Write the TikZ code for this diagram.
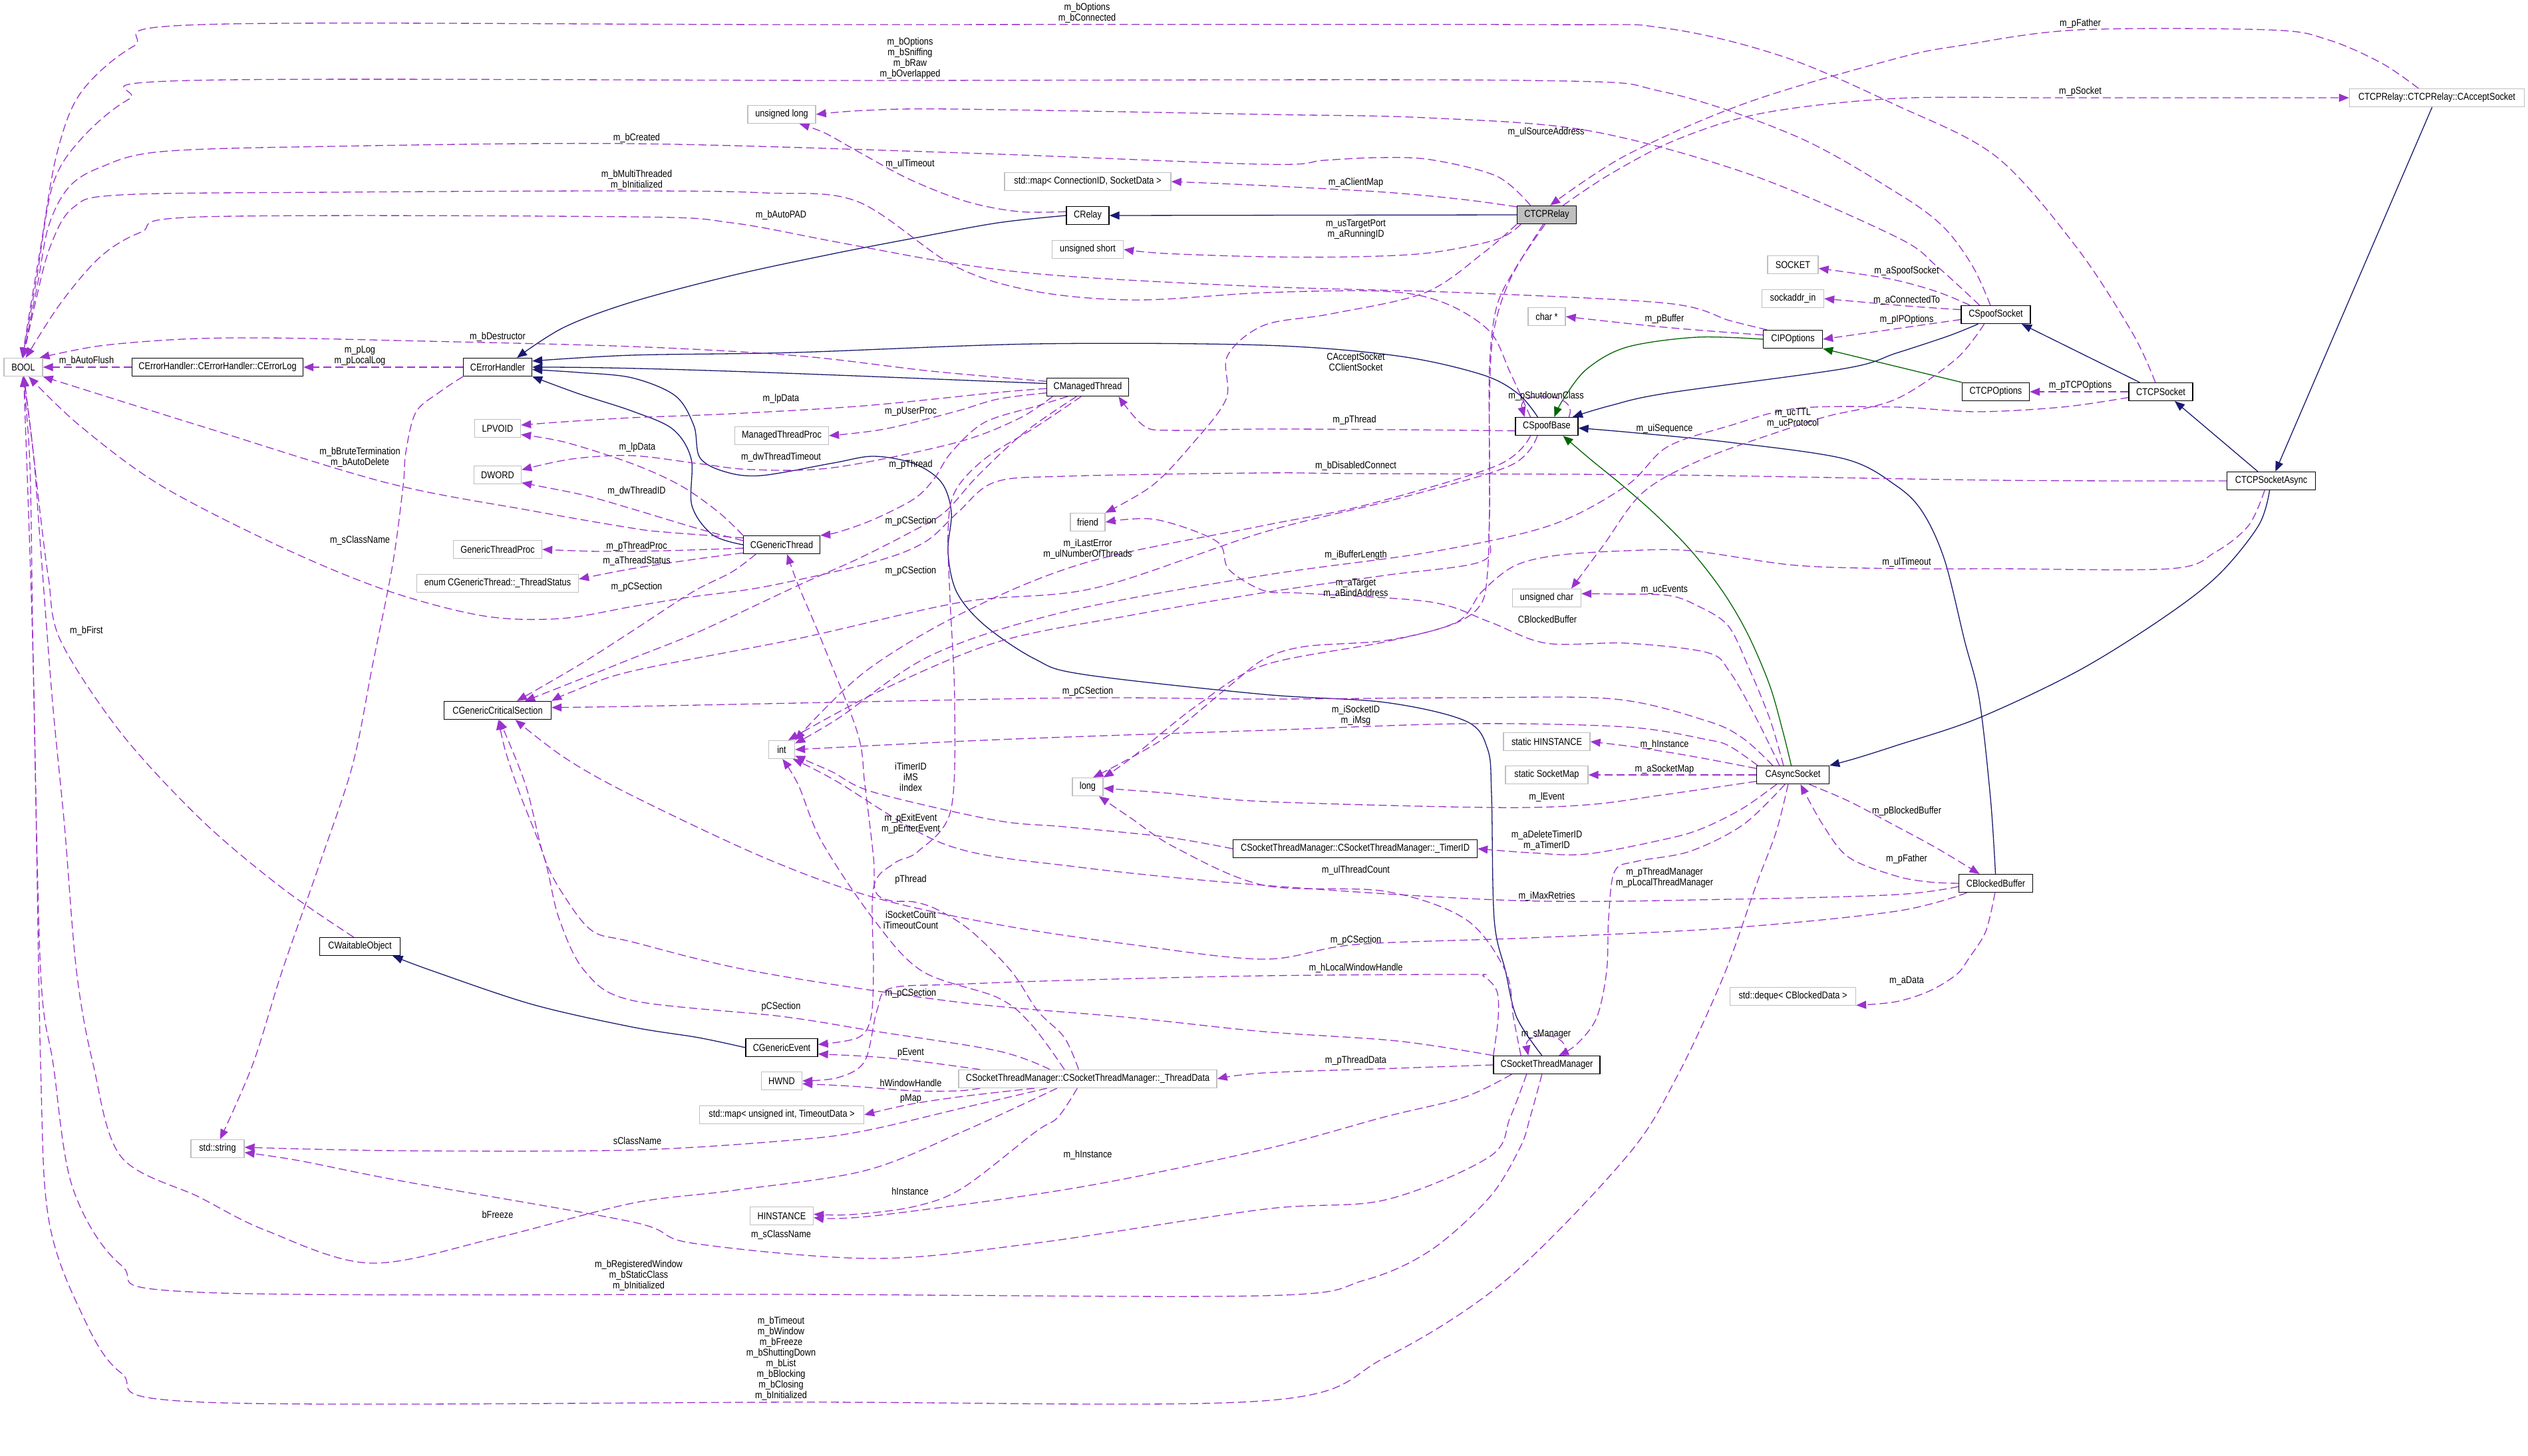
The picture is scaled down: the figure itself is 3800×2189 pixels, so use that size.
\documentclass[tikz,border=0pt]{standalone}
\usepackage{fontspec}
\setmainfont{Liberation Sans}[FakeStretch=0.85]
\usetikzlibrary{arrows.meta}
\definecolor{pur}{HTML}{9A32CD}
\definecolor{cnavy}{HTML}{191970}
\definecolor{cgreen}{HTML}{006400}
\definecolor{gbord}{HTML}{BFBFBF}
\definecolor{relayfill}{HTML}{BFBFBF}
\pgfdeclarelayer{back}
\pgfdeclarelayer{edges}
\pgfsetlayers{back,edges,main}
\tikzset{
  box/.style={draw, line width=1.3pt, minimum height=27pt, inner xsep=3pt, inner ysep=0pt, fill=white},
  cls/.style={box, draw=black},
  ext/.style={box, draw=gbord},
  u/.style={draw=pur, line width=1.3pt, dash pattern=on 12pt off 6pt, -{Triangle[length=15pt,width=12pt]}},
  inh/.style={draw=cnavy, line width=1.3pt, -{Triangle[length=15pt,width=12pt]}},
  pinh/.style={draw=cgreen, line width=1.3pt, -{Triangle[length=15pt,width=12pt]}},
  lbl/.style={align=center, inner sep=0pt},
  sm/.style={smooth, tension=0.55}
}
\begin{document}
\catcode`\_=12
\begin{tikzpicture}[x=1pt,y=-1pt,font=\fontsize{15}{16}\selectfont]
\useasboundingbox (0,0) rectangle (3800,2189);
\begin{pgfonlayer}{back}
\fill[white] (0,0) rectangle (3800,2189);
\end{pgfonlayer}
% ---------------- nodes
\node[ext, minimum width=58pt] (BOOL) at (35,552) {BOOL};
\node[cls, minimum width=257pt] (CErrorLog) at (327,552) {CErrorHandler::CErrorHandler::CErrorLog};
\node[cls, minimum width=103pt] (CErrorHandler) at (748,552) {CErrorHandler};
\node[ext, minimum width=69pt] (LPVOID) at (748,644) {LPVOID};
\node[ext, minimum width=71pt] (DWORD) at (748,714) {DWORD};
\node[ext, minimum width=133pt] (GTP) at (748,826) {GenericThreadProc};
\node[ext, minimum width=243pt] (ThreadStatus) at (748,877) {enum CGenericThread::_ThreadStatus};
\node[cls, minimum width=161pt] (CGCS) at (748,1068) {CGenericCriticalSection};
\node[cls, minimum width=121pt] (CWO) at (541,1423) {CWaitableObject};
\node[ext, minimum width=80pt] (stdstring) at (327,1727) {std::string};
\node[ext, minimum width=102pt] (ulong) at (1175,172) {unsigned long};
\node[ext, minimum width=141pt] (MTP) at (1175,655) {ManagedThreadProc};
\node[cls, minimum width=115pt] (CGT) at (1175,819) {CGenericThread};
\node[ext, minimum width=39pt] (int) at (1175,1127) {int};
\node[cls, minimum width=108pt] (CGE) at (1175,1575) {CGenericEvent};
\node[ext, minimum width=61pt] (HWND) at (1175,1625) {HWND};
\node[ext, minimum width=247pt] (tmap) at (1175,1676) {std::map< unsigned int, TimeoutData >};
\node[ext, minimum width=95pt] (HINST) at (1175,1828) {HINSTANCE};
\node[ext, minimum width=250pt] (cmap) at (1635,273) {std::map< ConnectionID, SocketData >};
\node[cls, minimum width=64pt] (CRelay) at (1635,324) {CRelay};
\node[ext, minimum width=107pt] (ushort) at (1635,375) {unsigned short};
\node[cls, minimum width=123pt] (CMT) at (1635,582) {CManagedThread};
\node[ext, minimum width=52pt] (friend) at (1635,785) {friend};
\node[ext, minimum width=46pt] (long) at (1635,1183) {long};
\node[ext, minimum width=388pt] (TD) at (1635,1622) {CSocketThreadManager::CSocketThreadManager::_ThreadData};
\node[cls, minimum width=367pt] (TimerID) at (2037,1276) {CSocketThreadManager::CSocketThreadManager::_TimerID};
\node[cls, fill=relayfill, minimum width=89pt] (CTCPRelay) at (2325,323) {CTCPRelay};
\node[ext, minimum width=56pt] (charp) at (2325,476) {char *};
\node[cls, minimum width=94pt] (CSpoofBase) at (2325,641) {CSpoofBase};
\node[ext, minimum width=103pt] (uchar) at (2325,899) {unsigned char};
\node[ext, minimum width=130pt] (sHINST) at (2325,1115) {static HINSTANCE};
\node[ext, minimum width=124pt] (sSM) at (2325,1165) {static SocketMap};
\node[cls, minimum width=160pt] (CSTM) at (2325,1601) {CSocketThreadManager};
\node[ext, minimum width=76pt] (SOCKET) at (2695,398) {SOCKET};
\node[ext, minimum width=93pt] (sockaddr) at (2695,449) {sockaddr_in};
\node[cls, minimum width=89pt] (CIPO) at (2695,510) {CIPOptions};
\node[cls, minimum width=109pt] (CAS) at (2695,1165) {CAsyncSocket};
\node[ext, minimum width=189pt] (deque) at (2695,1498) {std::deque< CBlockedData >};
\node[cls, minimum width=104pt] (CSS) at (3000,473) {CSpoofSocket};
\node[cls, minimum width=101pt] (CTCPO) at (3000,589) {CTCPOptions};
\node[cls, minimum width=111pt] (CBB) at (3000,1328) {CBlockedBuffer};
\node[cls, minimum width=96pt] (CTCPS) at (3248,589) {CTCPSocket};
\node[cls, minimum width=133pt] (CTSA) at (3414,723) {CTCPSocketAsync};
\node[ext, minimum width=263pt] (CAcc) at (3663,147) {CTCPRelay::CTCPRelay::CAcceptSocket};
% ---------------- edges
\begin{pgfonlayer}{edges}
% inheritance
\draw[inh] (CTCPRelay.west) -- (CRelay.east);
\draw[inh] plot[sm] coordinates {(CRelay.west) (1500,335) (1374,358) (1250,382) (1101,414) (950,454) (848,492) (CErrorHandler.26)};
\draw[inh] plot[sm] coordinates {(CSpoofBase.134) (2282,592) (2227,563) (2100,535) (1900,519) (1556,517) (1192,530) (950,534) (CErrorHandler.10)};
\draw[inh] (CMT.175) .. controls (1300,566) and (1000,552) .. (CErrorHandler.east);
\draw[inh] plot[sm] coordinates {(CGT.west) (1071,804) (1040,760) (1039,690) (1011,645) (950,618) (870,592) (CErrorHandler.south east)};
\draw[inh] plot[sm] coordinates {(CSTM.117) (2280,1530) (2263,1460) (2246,1382) (2242,1195) (2236,1126) (2203,1084) (2082,1056) (1900,1044) (1629,1014) (1556,991) (1480,940) (1438,890) (1425,830) (1430,770) (1415,725) (1374,697) (1313,686) (1253,696) (1144,715) (1089,709) (1052,688) (1043,640) (1015,595) (950,568) (870,560) (CErrorHandler.-4)};
\draw[inh] plot[sm] coordinates {(CGE.west) (1050,1560) (950,1544) (800,1510) (651,1460) (CWO.-16)};
\draw[inh] plot[sm] coordinates {(CSS.-152) (2929,505) (2850,531) (2773,554) (2506,591) (2420,610) (CSpoofBase.20)};
\draw[inh] plot[sm] coordinates {(CBB.92) (2992,1200) (2975,1050) (2953,963) (2923,842) (2890,770) (2850,730) (2773,690) (2600,665) (2450,650) (CSpoofBase.-3)};
\draw[inh] (CTCPS.156) -- (CSS.-20);
\draw[inh] (CTSA.145) -- (CTCPS.-34);
\draw[inh] (CAcc.-117) -- (CTSA.66);
\draw[inh] plot[sm] coordinates {(CTSA.-100) (3395,790) (3334,865) (3250,930) (3123,1009) (2973,1080) (2850,1121) (2790,1140) (CAS.north east)};
\draw[pinh] plot[sm] coordinates {(CIPO.west) (2550,507) (2445,522) (2385,555) (2350,600) (CSpoofBase.51)};
\draw[pinh] (CTCPO.north west) -- (CIPO.south east);
\draw[pinh] plot[sm] coordinates {(CAS.100) (2680,1100) (2660,1030) (2627,953) (2590,890) (2542,828) (2490,775) (2439,730) (2390,690) (CSpoofBase.-30)};
% usage
\draw[u] plot[sm] coordinates {(CTCPS.120) (3205,500) (3120,370) (3000,235) (2850,158) (2680,85) (2500,42) (2300,37) (1200,37) (303,37) (200,70) (121,140) (85,233) (61,372) (45,466) (BOOL.97)};
\draw[u] plot[sm] coordinates {(CSS.120) (2965,400) (2920,340) (2850,289) (2700,205) (2500,138) (2300,121) (1300,121) (285,121) (194,149) (121,210) (79,279) (55,419) (BOOL.95)};
\draw[u] plot[sm] coordinates {(CTCPRelay.150) (2250,265) (2150,240) (2070,237) (1990,241) (1900,247) (1450,230) (950,216) (500,220) (242,228) (150,252) (103,282) (73,340) (56,430) (BOOL.93)};
\draw[u] plot[sm] coordinates {(CSpoofBase.150) (2270,560) (2239,498) (2170,455) (2082,438) (1900,440) (1707,451) (1556,438) (1435,400) (1289,303) (1150,290) (950,287) (500,289) (182,293) (110,312) (75,372) (52,460) (BOOL.90)};
\draw[u] plot[sm] coordinates {(CIPO.160) (2600,482) (2506,456) (2200,440) (1900,431) (1600,415) (1435,396) (1253,363) (1100,335) (950,326) (303,326) (212,349) (151,386) (91,456) (BOOL.75)};
\draw[u] plot[sm] coordinates {(CMT.172) (1400,558) (1200,535) (950,521) (600,512) (400,508) (273,510) (150,520) (BOOL.30)};
\draw[u] (CErrorLog.west) -- (BOOL.east);
\draw[u] plot[sm] coordinates {(CGT.170) (1000,800) (950,794) (800,768) (582,726) (300,640) (BOOL.south east)};
\draw[u] plot[sm] coordinates {(CTSA.west) (3000,722) (2500,714) (2038,712) (1900,711) (1600,716) (1495,725) (1440,770) (1390,815) (1313,845) (1150,882) (1035,898) (950,912) (842,930) (727,926) (582,888) (424,823) (242,730) (120,640) (BOOL.-60)};
\draw[u] plot[sm] coordinates {(CWO.124) (424,1335) (303,1233) (182,1102) (91,963) (73,870) (61,777) (50,680) (BOOL.-85)};
\draw[u] plot[sm] coordinates {(TD.-163) (1450,1700) (1300,1760) (1100,1790) (950,1809) (750,1860) (557,1899) (400,1850) (300,1800) (182,1739) (140,1600) (115,1460) (97,1242) (79,1056) (61,823) (50,680) (BOOL.-90)};
\draw[u] plot[sm] coordinates {(CSTM.-117) (2300,1680) (2285,1725) (2239,1800) (2150,1880) (2050,1925) (1900,1948) (1200,1946) (303,1943) (182,1902) (109,1785) (80,1600) (61,1460) (50,1000) (45,700) (BOOL.-93)};
\draw[u] plot[sm] coordinates {(CAS.-117) (2670,1250) (2640,1330) (2591,1467) (2520,1620) (2445,1739) (2263,1925) (2082,2041) (1900,2106) (1200,2108) (303,2108) (182,2064) (121,1971) (73,1832) (61,1600) (50,1000) (BOOL.-88)};
\draw[u] plot[sm] coordinates {(CSS.150) (2911,400) (2850,356) (2627,261) (2385,196) (2142,177) (1900,172) (1435,164) (1300,166) (ulong.east)};
\draw[u] plot[sm] coordinates {(CRelay.170) (1530,318) (1453,303) (1368,270) (1290,228) (1240,200) (ulong.-28)};
\draw[u] plot[sm] coordinates {(CTCPRelay.165) (2200,300) (2082,289) (1900,279) (cmap.east)};
\draw[u] plot[sm] coordinates {(CTCPRelay.-160) (2250,360) (2150,380) (2038,386) (1900,386) (1750,381) (ushort.east)};
\draw[u] plot[sm] coordinates {(CTCPRelay.30) (2420,262) (2520,210) (2650,170) (2850,148) (3100,147) (CAcc.west)};
\draw[u] plot[sm] coordinates {(CAcc.153) (3580,95) (3500,60) (3413,45) (3123,45) (2950,68) (2850,88) (2627,154) (2445,233) (CTCPRelay.70)};
\draw[u] plot[sm] coordinates {(CSS.160) (2910,438) (2839,419) (SOCKET.-8)};
\draw[u] plot[sm] coordinates {(CSS.172) (2866,460) (sockaddr.east)};
\draw[u] plot[sm] coordinates {(CSS.-172) (2866,492) (CIPO.east)};
\draw[u] plot[sm] coordinates {(CIPO.172) (2502,492) (charp.east)};
\draw[u] (CTCPS.west) -- (CTCPO.east);
\draw[u] plot[sm] coordinates {(CTCPRelay.south west) (2230,380) (2142,440) (2000,472) (1900,489) (1845,535) (1843,600) (1790,670) (1732,730) (friend.north east)};
\draw[u] plot[sm] coordinates {(CAS.145) (2640,1080) (2600,1010) (2566,981) (2445,967) (2324,967) (2239,935) (2150,905) (1960,892) (1900,888) (1847,856) (1829,814) (1737,781) (friend.east)};
\draw[u] (CSpoofBase.23) .. controls (2375,588) and (2280,588) .. (CSpoofBase.157);
\draw[u] plot[sm] coordinates {(CSpoofBase.-172) (2100,646) (1900,645) (1760,647) (1719,640) (CMT.-17)};
\draw[u] plot[sm] coordinates {(CSS.-141) (2940,540) (2850,600) (2750,625) (2695,642) (2560,690) (2470,740) (2410,820) (uchar.21)};
\draw[u] plot[sm] coordinates {(CTCPS.-170) (3100,612) (2971,619) (2850,612) (2700,614) (2600,640) (2506,672) (2445,730) (2330,790) (2150,830) (1900,865) (1600,920) (1400,985) (1260,1080) (int.25)};
\draw[u] plot[sm] coordinates {(CTCPRelay.-100) (2280,400) (2250,460) (2239,550) (2239,700) (2238,800) (2227,844) (2082,865) (1900,891) (1700,925) (1500,965) (1320,1040) (int.55)};
\draw[u] plot[sm] coordinates {(CSpoofBase.-150) (2250,700) (2050,760) (1900,790) (1635,845) (1450,920) (1300,1010) (int.north east)};
\draw[u] plot[sm] coordinates {(CAS.165) (2600,1122) (2566,1112) (2445,1093) (2203,1088) (1900,1098) (1500,1112) (int.east)};
\draw[u] plot[sm] coordinates {(TimerID.west) (1750,1258) (1600,1243) (1495,1233) (1313,1191) (1250,1160) (int.-25)};
\draw[u] plot[sm] coordinates {(TD.158) (1550,1540) (1500,1500) (1386,1460) (1313,1382) (1235,1265) (1200,1180) (int.-85)};
\draw[u] plot[sm] coordinates {(CBB.-175) (2850,1345) (2600,1352) (2282,1354) (1900,1331) (1616,1303) (1422,1270) (1253,1172) (int.-40)};
\draw[u] plot[sm] coordinates {(CTCPRelay.-110) (2270,420) (2245,500) (2239,600) (2239,760) (2236,860) (2225,910) (2180,940) (2082,963) (1961,972) (1900,991) (1846,1033) (1750,1110) (long.60)};
\draw[u] plot[sm] coordinates {(CTSA.-125) (3380,790) (3330,830) (3262,855) (3000,855) (2866,855) (2700,850) (2542,828) (2445,828) (2340,835) (2276,851) (2227,890) (2190,935) (2082,965) (1900,1000) (1800,1060) (1700,1140) (long.north east)};
\draw[u] plot[sm] coordinates {(CAS.-170) (2500,1195) (2385,1210) (2239,1214) (1900,1205) (1750,1192) (long.-5)};
\draw[u] plot[sm] coordinates {(CSTM.160) (2275,1530) (2263,1460) (2203,1382) (2082,1340) (1900,1331) (1768,1275) (1700,1230) (long.-40)};
\draw[u] plot[sm] coordinates {(CSTM.170) (2252,1530) (2250,1490) (2230,1468) (2203,1465) (1900,1467) (1600,1474) (1435,1480) (1338,1486) (1318,1520) (1300,1595) (1260,1620) (HWND.east)};
\draw[u] plot[sm] coordinates {(CMT.-125) (1560,640) (1480,690) (1435,740) (1425,800) (1428,900) (1435,1056) (1429,1219) (1380,1280) (1344,1298) (1313,1335) (1313,1460) (1309,1530) (1290,1560) (CGE.5)};
\draw[u] plot[sm] coordinates {(TD.175) (1369,1594) (1300,1588) (CGE.-10)};
\draw[u] plot[sm] coordinates {(TD.-175) (1440,1640) (1374,1640) (1280,1633) (HWND.-8)};
\draw[u] plot[sm] coordinates {(TD.-170) (1450,1648) (1369,1660) (tmap.east)};
\draw[u] plot[sm] coordinates {(TD.166) (1500,1580) (1313,1550) (1174,1528) (950,1504) (879,1460) (840,1380) (818,1289) (782,1195) (760,1130) (CGCS.-85)};
\draw[u] plot[sm] coordinates {(CSTM.north west) (2100,1565) (1900,1551) (1700,1530) (1435,1506) (1132,1460) (950,1416) (891,1400) (850,1350) (818,1289) (790,1180) (CGCS.-80)};
\draw[u] plot[sm] coordinates {(CBB.-162) (2850,1370) (2600,1395) (2300,1410) (2038,1420) (1900,1442) (1700,1420) (1500,1390) (1313,1349) (1150,1290) (950,1196) (850,1140) (CGCS.-28)};
\draw[u] plot[sm] coordinates {(CAS.155) (2620,1110) (2566,1084) (2427,1051) (2200,1049) (1900,1051) (1635,1049) (1300,1055) (950,1062) (CGCS.3)};
\draw[u] plot[sm] coordinates {(CSpoofBase.-135) (2270,700) (2100,750) (1900,800) (1646,884) (1447,905) (1200,960) (950,1009) (860,1040) (CGCS.north east)};
\draw[u] plot[sm] coordinates {(CMT.-140) (1540,650) (1470,715) (1420,770) (1369,800) (1290,840) (1200,880) (1050,950) (950,990) (850,1030) (CGCS.19)};
\draw[u] plot[sm] coordinates {(CGT.-160) (1100,860) (1041,890) (950,949) (870,1000) (CGCS.26)};
\draw[u] plot[sm] coordinates {(CErrorHandler.south west) (660,590) (625,620) (610,680) (606,730) (590,850) (560,1000) (530,1150) (480,1300) (424,1460) (380,1600) (stdstring.75)};
\draw[u] plot[sm] coordinates {(TD.-167) (1450,1665) (1300,1700) (1192,1714) (950,1729) (600,1730) (stdstring.3)};
\draw[u] plot[sm] coordinates {(CSTM.-155) (2270,1680) (2239,1739) (2082,1804) (1900,1818) (1556,1869) (1313,1892) (1041,1869) (950,1837) (606,1776) (450,1745) (stdstring.-8)};
\draw[u] plot[sm] coordinates {(TD.-138) (1590,1680) (1556,1702) (1447,1786) (1374,1814) (1280,1826) (HINST.3)};
\draw[u] plot[sm] coordinates {(CSTM.-165) (2200,1650) (2082,1679) (1900,1728) (1616,1786) (1313,1828) (HINST.-3)};
\draw[u] plot[sm] coordinates {(CSTM.west) (2100,1606) (1900,1613) (TD.east)};
\draw[u] plot[sm] coordinates {(TD.134) (1600,1560) (1560,1520) (1520,1460) (1460,1400) (1410,1368) (1374,1356) (1338,1354) (1316,1340) (1313,1289) (1300,1180) (1289,1102) (1235,963) (1200,880) (CGT.-60)};
\draw[u] plot[sm] coordinates {(CMT.-155) (1560,610) (1480,635) (1430,680) (1404,720) (1374,750) (1313,781) (1260,800) (CGT.north east)};
\draw[u] plot[sm] coordinates {(CMT.-178) (1500,590) (1300,610) (1100,622) (950,628) (850,634) (LPVOID.8)};
\draw[u] plot[sm] coordinates {(CGT.north west) (1080,770) (1023,730) (950,697) (850,665) (LPVOID.-15)};
\draw[u] plot[sm] coordinates {(CMT.-172) (1500,600) (1435,619) (1330,645) (MTP.east)};
\draw[u] plot[sm] coordinates {(CMT.-165) (1530,630) (1435,666) (1253,703) (1130,706) (1050,697) (950,685) (860,690) (DWORD.12)};
\draw[u] plot[sm] coordinates {(CGT.174) (1050,795) (950,765) (880,745) (806,730) (DWORD.-18)};
\draw[u] plot[sm] coordinates {(CGT.-175) (1000,828) (900,829) (GTP.east)};
\draw[u] plot[sm] coordinates {(CGT.-168) (1050,840) (950,855) (ThreadStatus.3)};
\draw[u] (CErrorHandler.west) -- (CErrorLog.east);
\draw[u] (CAS.west) -- (sSM.east);
\draw[u] plot[sm] coordinates {(CAS.170) (2560,1140) (2502,1130) (2450,1122) (sHINST.east)};
\draw[u] plot[sm] coordinates {(CAS.135) (2660,1080) (2627,1000) (2597,940) (2550,910) (2506,895) (2420,893) (uchar.7)};
\draw[u] plot[sm] coordinates {(CAS.-150) (2620,1215) (2560,1245) (2506,1261) (2385,1284) (2300,1282) (TimerID.east)};
\draw[u] plot[sm] coordinates {(CAS.-130) (2620,1240) (2540,1280) (2460,1295) (2427,1310) (2418,1380) (2415,1460) (2400,1530) (2370,1570) (CSTM.38)};
\draw[u] plot[sm] coordinates {(CAS.-30) (2780,1205) (2850,1242) (2911,1275) (CBB.150)};
\draw[u] plot[sm] coordinates {(CBB.west) (2900,1326) (2850,1317) (2779,1289) (2740,1240) (CAS.-51)};
\draw[u] plot[sm] coordinates {(CBB.-95) (2985,1400) (2960,1440) (2941,1465) (2900,1490) (2850,1506) (deque.-8)};
\draw[u] (CSTM.30) .. controls (2368,1550) and (2290,1550) .. (CSTM.153);
\end{pgfonlayer}
% ---------------- labels
\node[lbl] at (1634,20) {m_bOptions\\m_bConnected};
\node[lbl] at (1368,88) {m_bOptions\\m_bSniffing\\m_bRaw\\m_bOverlapped};
\node[lbl] at (957,208) {m_bCreated};
\node[lbl] at (957,271) {m_bMultiThreaded\\m_bInitialized};
\node[lbl] at (1174,324) {m_bAutoPAD};
\node[lbl] at (1368,247) {m_ulTimeout};
\node[lbl] at (2038,275) {m_aClientMap};
\node[lbl] at (2038,345) {m_usTargetPort\\m_aRunningID};
\node[lbl] at (2324,199) {m_ulSourceAddress};
\node[lbl] at (3127,36) {m_pFather};
\node[lbl] at (3127,138) {m_pSocket};
\node[lbl] at (2866,408) {m_aSpoofSocket};
\node[lbl] at (2866,452) {m_aConnectedTo};
\node[lbl] at (2866,481) {m_pIPOptions};
\node[lbl] at (2502,480) {m_pBuffer};
\node[lbl] at (2038,544) {CAcceptSocket\\CClientSocket};
\node[lbl] at (2324,596) {m_pShutdownClass};
\node[lbl] at (2036,632) {m_pThread};
\node[lbl] at (2502,645) {m_uiSequence};
\node[lbl] at (2695,629) {m_ucTTL\\m_ucProtocol};
\node[lbl] at (3127,580) {m_pTCPOptions};
\node[lbl] at (2038,701) {m_bDisabledConnect};
\node[lbl] at (2866,846) {m_ulTimeout};
\node[lbl] at (2866,1220) {m_pBlockedBuffer};
\node[lbl] at (2866,1292) {m_pFather};
\node[lbl] at (2866,1475) {m_aData};
\node[lbl] at (2038,835) {m_iBufferLength};
\node[lbl] at (2038,885) {m_aTarget\\m_aBindAddress};
\node[lbl] at (2326,931) {CBlockedBuffer};
\node[lbl] at (2502,887) {m_ucEvents};
\node[lbl] at (2038,1076) {m_iSocketID\\m_iMsg};
\node[lbl] at (2502,1120) {m_hInstance};
\node[lbl] at (2502,1157) {m_aSocketMap};
\node[lbl] at (2325,1199) {m_lEvent};
\node[lbl] at (2325,1264) {m_aDeleteTimerID\\m_aTimerID};
\node[lbl] at (2038,1309) {m_ulThreadCount};
\node[lbl] at (2502,1320) {m_pThreadManager\\m_pLocalThreadManager};
\node[lbl] at (2325,1348) {m_iMaxRetries};
\node[lbl] at (2038,1414) {m_pCSection};
\node[lbl] at (2038,1456) {m_hLocalWindowHandle};
\node[lbl] at (2324,1555) {m_sManager};
\node[lbl] at (2038,1595) {m_pThreadData};
\node[lbl] at (1635,1737) {m_hInstance};
\node[lbl] at (1368,1791) {hInstance};
\node[lbl] at (1174,1857) {m_sClassName};
\node[lbl] at (960,1918) {m_bRegisteredWindow\\m_bStaticClass\\m_bInitialized};
\node[lbl] at (1174,2043) {m_bTimeout\\m_bWindow\\m_bFreeze\\m_bShuttingDown\\m_bList\\m_bBlocking\\m_bClosing\\m_bInitialized};
\node[lbl] at (748,1826) {bFreeze};
\node[lbl] at (958,1715) {sClassName};
\node[lbl] at (1369,1583) {pEvent};
\node[lbl] at (1369,1628) {hWindowHandle};
\node[lbl] at (1369,1652) {pMap};
\node[lbl] at (1174,1514) {pCSection};
\node[lbl] at (1369,1494) {m_pCSection};
\node[lbl] at (1369,1323) {pThread};
\node[lbl] at (1369,1383) {iSocketCount\\iTimeoutCount};
\node[lbl] at (1369,1239) {m_pExitEvent\\m_pEnterEvent};
\node[lbl] at (1369,1168) {iTimerID\\iMS\\iIndex};
\node[lbl] at (1635,826) {m_iLastError\\m_ulNumberOfThreads};
\node[lbl] at (1369,784) {m_pCSection};
\node[lbl] at (1369,859) {m_pCSection};
\node[lbl] at (1635,1040) {m_pCSection};
\node[lbl] at (1174,600) {m_lpData};
\node[lbl] at (1369,619) {m_pUserProc};
\node[lbl] at (1174,688) {m_dwThreadTimeout};
\node[lbl] at (1369,699) {m_pThread};
\node[lbl] at (541,535) {m_pLog\\m_pLocalLog};
\node[lbl] at (130,543) {m_bAutoFlush};
\node[lbl] at (748,507) {m_bDestructor};
\node[lbl] at (541,688) {m_bBruteTermination\\m_bAutoDelete};
\node[lbl] at (958,673) {m_lpData};
\node[lbl] at (957,739) {m_dwThreadID};
\node[lbl] at (957,822) {m_pThreadProc};
\node[lbl] at (957,844) {m_aThreadStatus};
\node[lbl] at (957,883) {m_pCSection};
\node[lbl] at (541,813) {m_sClassName};
\node[lbl] at (130,949) {m_bFirst};
\end{tikzpicture}
\end{document}
